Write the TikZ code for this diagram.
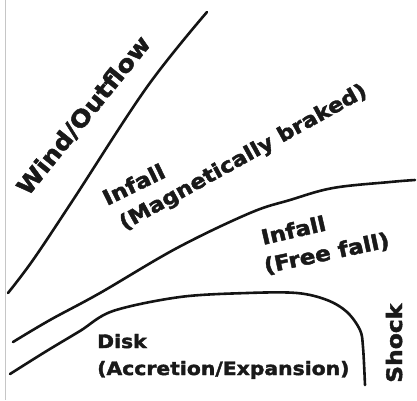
\documentclass[tikz,border=0pt]{standalone}
\usepackage{fontspec}
\newfontfamily\lab{DejaVu Sans}[FakeStretch=1.1, FakeBold=2]
\newcommand\labsize[1]{\fontsize{#1}{#1}\selectfont}
\begin{document}
\begin{tikzpicture}[x=1pt,y=-1pt,
  curve/.style={line width=2.6pt, line cap=round, line join=round, color=black!92},
  lbl/.style={inner sep=0pt, anchor=base west, text=black!90},
  border/.style={draw=gray!45, line width=1pt}]
\useasboundingbox (0,0) rectangle (417,400);
\draw[border] (5,0) -- (5,400);
% wind / outflow boundary
\draw[curve] plot[smooth, tension=0.6] coordinates {(8,293) (33,260) (73,200) (147,87) (207,12)};
% free-fall boundary
\draw[curve] plot[smooth, tension=0.6] coordinates {(13,342) (50,320) (100,293) (177,248) (250,213) (290,200) (333,188) (390,182) (415,180)};
% disk boundary
\draw[curve] plot[smooth, tension=0.55] coordinates {(10,374) (45,352) (80,331) (113,311) (180,297) (247,293) (297,293) (327,300) (347,312) (360,330) (363,347) (365,385)};
% labels
\node[lbl, rotate=51, font=\lab\bfseries\labsize{23.4}] (wind) at (28,197) {Wind/Outflow};
\node[lbl, rotate=26, font=\lab\bfseries\labsize{21}] (mag1) at (107,206) {Infall};
\node[lbl, rotate=29, font=\lab\bfseries\labsize{20.5}] (mag2) at (124,230.5) {(Magnetically braked)};
\node[lbl, rotate=13, font=\lab\bfseries\labsize{20.7}] (ff1) at (263,245) {Infall};
\node[lbl, rotate=12, font=\lab\bfseries\labsize{21}] (ff2) at (265.5,273.5) {(Free fall)};
\node[lbl, font=\lab\bfseries\labsize{18.5}] (disk1) at (97,348) {Disk};
\node[lbl, font=\lab\bfseries\labsize{18.5}] (disk2) at (97,375) {(Accretion/Expansion)};
\node[lbl, rotate=90, font=\lab\bfseries\labsize{21.3}] (shock) at (402,383) {Shock};
\end{tikzpicture}
\end{document}
